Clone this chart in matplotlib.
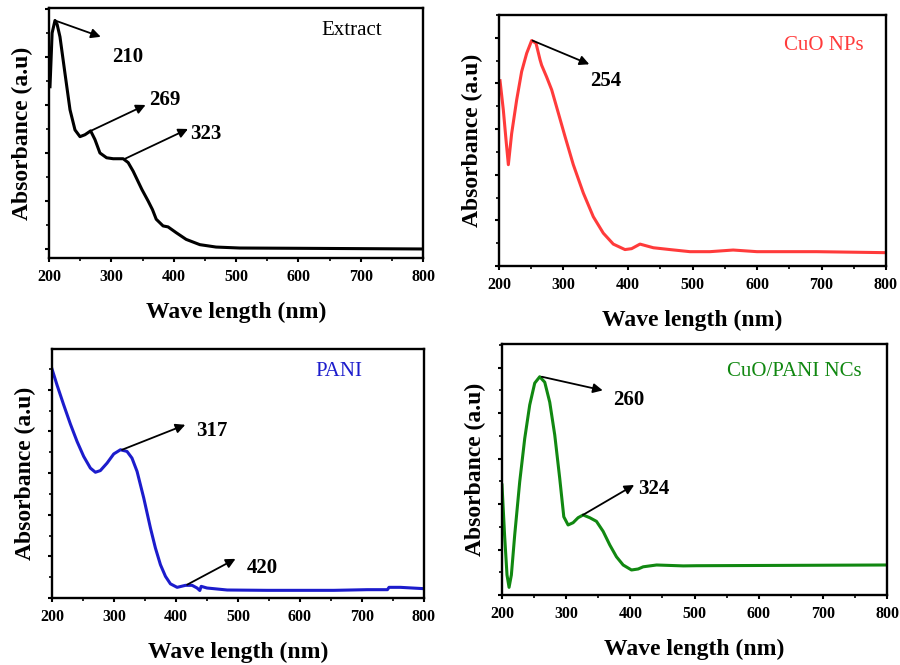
import numpy as np
import matplotlib
matplotlib.use('Agg')
import matplotlib.pyplot as plt
from matplotlib.ticker import MultipleLocator

plt.rcParams['font.family'] = ['Liberation Serif', 'DejaVu Serif']

# Extract spectrum (wavelength nm, absorbance a.u.)
extract_nm = [201.6, 205, 209.6, 213, 217.6, 225.6, 233.7, 241.7, 249.7, 257.7, 266.8, 273.7,
              281.7, 292.4, 303, 319, 327, 335, 349, 359, 366, 372, 383, 391, 404,
              420, 442, 468, 506, 602, 800]
extract_abs = [1.69, 2.25, 2.38, 2.34, 2.21, 1.83, 1.45, 1.24, 1.17, 1.19, 1.23, 1.14,
               1.0, 0.95, 0.94, 0.94, 0.90, 0.81, 0.62, 0.50, 0.41, 0.31, 0.24, 0.23, 0.17,
               0.10, 0.045, 0.02, 0.01, 0.007, 0.0]

# CuO NPs spectrum
cuo_nm = [201.6, 206.7, 210.9, 214.5, 219.6, 227.4, 235.1, 242.9, 250.6, 257.4, 263.6,
          266.1, 273.9, 281.7, 289.4, 302.3, 315.2, 330.7, 346.2, 361.7, 377.2, 395.3,
          405.6, 418.6, 428.9, 439.3, 465, 496, 527, 563, 600, 692, 800]
cuo_abs = [2.03, 1.71, 1.38, 1.11, 1.45, 1.82, 2.13, 2.33, 2.47, 2.44, 2.26,
           2.20, 2.07, 1.93, 1.74, 1.42, 1.11, 0.80, 0.54, 0.36, 0.24, 0.18,
           0.19, 0.24, 0.22, 0.20, 0.18, 0.157, 0.157, 0.175, 0.157, 0.157, 0.146]

# PANI spectrum
pani_nm = [200, 208, 218.8, 229.6, 240.4, 251.1, 261.9, 270, 278, 288.8, 299.6, 310.4,
           321, 329, 337.2, 348, 358.8, 366.8, 374.9, 383, 391, 401.8, 415.3, 426, 434,
           438.4, 440.6, 450, 482.6, 547, 654.8, 708.6, 741, 743.6, 762, 800]
pani_abs = [2.75, 2.56, 2.32, 2.09, 1.88, 1.70, 1.56, 1.51, 1.53, 1.62, 1.73, 1.78,
            1.76, 1.68, 1.52, 1.20, 0.84, 0.60, 0.40, 0.26, 0.17, 0.128, 0.152, 0.152, 0.12,
            0.09, 0.14, 0.12, 0.096, 0.092, 0.092, 0.10, 0.10, 0.128, 0.128, 0.112]

# CuO/PANI NCs spectrum
nc_nm = [200, 204, 207.8, 211, 214.6, 219.8, 227.6, 235.4, 243.2, 251, 258.8, 266.6,
         274.4, 282.2, 290, 296.3, 303, 310.8, 318.6, 326.4, 336.8, 347.2, 357.6, 368,
         378.4, 388.8, 401.8, 412.2, 420, 440.9, 482.5, 503, 800]
nc_abs = [1.21, 0.66, 0.22, 0.084, 0.22, 0.66, 1.245, 1.72, 2.09, 2.33, 2.40, 2.34,
          2.12, 1.76, 1.28, 0.86, 0.77, 0.795, 0.85, 0.88, 0.85, 0.81, 0.70, 0.55,
          0.42, 0.33, 0.275, 0.286, 0.31, 0.33, 0.32, 0.322, 0.33]

names = ['Extract', 'CuO NPs', 'PANI', 'CuO/PANI NCs']
colors = ['black', '#ff3b3b', '#1c1ccc', '#118811']

# peak labels: (peak x, peak y, arrow head x, arrow head y, text x, text y, label)
peaks = [
    [(209.6, 2.38, 283, 2.21, 327, 2.0, '210'),
     (267, 1.23, 355, 1.50, 385, 1.55, '269'),
     (322, 0.94, 423, 1.25, 452, 1.20, '323')],
    [(252, 2.47, 340, 2.21, 365, 2.03, '254')],
    [(313, 1.78, 415, 2.08, 457, 2.01, '317'),
     (418, 0.16, 496, 0.47, 539, 0.36, '420')],
    [(262, 2.40, 357, 2.25, 398, 2.14, '260'),
     (326, 0.88, 406, 1.21, 437, 1.17, '324')],
]

series = [(extract_nm, extract_abs), (cuo_nm, cuo_abs), (pani_nm, pani_abs), (nc_nm, nc_abs)]

# axes boxes in pixels: left, right, top, bottom
boxes = [(49, 423, 8, 258), (499, 886, 15, 266), (52, 424, 349, 598), (502, 887, 344, 595)]
ylims = [(-0.094, 2.51), (0.0, 2.75), (0.0, 2.99), (0.0, 2.76)]
name_pos = [(0.81, 0.91), (0.84, 0.88), (0.77, 0.91), (0.76, 0.89)]

W, H = 900, 665
fig = plt.figure(figsize=(9, 6.65), dpi=100)

for i in range(4):
    l, r, t, b = boxes[i]
    ax = fig.add_axes([l / W, 1 - b / H, (r - l) / W, (b - t) / H])
    x, y = series[i]
    ax.plot(x, y, color=colors[i], lw=2.2, solid_joinstyle='round')
    ax.set_xlim(200, 800)
    ax.set_ylim(*ylims[i])
    ax.xaxis.set_major_locator(MultipleLocator(100))
    ax.xaxis.set_minor_locator(MultipleLocator(50))
    ax.yaxis.set_major_locator(MultipleLocator(0.5))
    ax.yaxis.set_minor_locator(MultipleLocator(0.25))
    ax.tick_params(which='major', direction='out', length=3, width=1.5, labelsize=11.5, pad=5)
    ax.tick_params(which='minor', direction='out', length=2, width=1.2)
    ax.tick_params(axis='y', labelleft=False)
    for lab in ax.get_xticklabels():
        lab.set_fontweight('bold')
    for s in ax.spines.values():
        s.set_linewidth(1.7)
    ax.set_xlabel('Wave length (nm)', fontsize=17, fontweight='bold', labelpad=12)
    ax.set_ylabel('Absorbance (a.u)', fontsize=17, fontweight='bold', labelpad=6)
    ax.text(name_pos[i][0], name_pos[i][1], names[i], transform=ax.transAxes,
            ha='center', va='center', fontsize=15, color=colors[i])
    for px, py, hx, hy, tx, ty, lab in peaks[i]:
        ax.annotate('', xy=(hx, hy), xytext=(px, py),
                    arrowprops=dict(arrowstyle='-|>', color='black', lw=1.3,
                                    mutation_scale=14, shrinkA=0, shrinkB=0))
        ax.text(tx, ty, lab, fontsize=15, fontweight='bold', ha='center', va='center')

fig.savefig('out.png', dpi=100)
